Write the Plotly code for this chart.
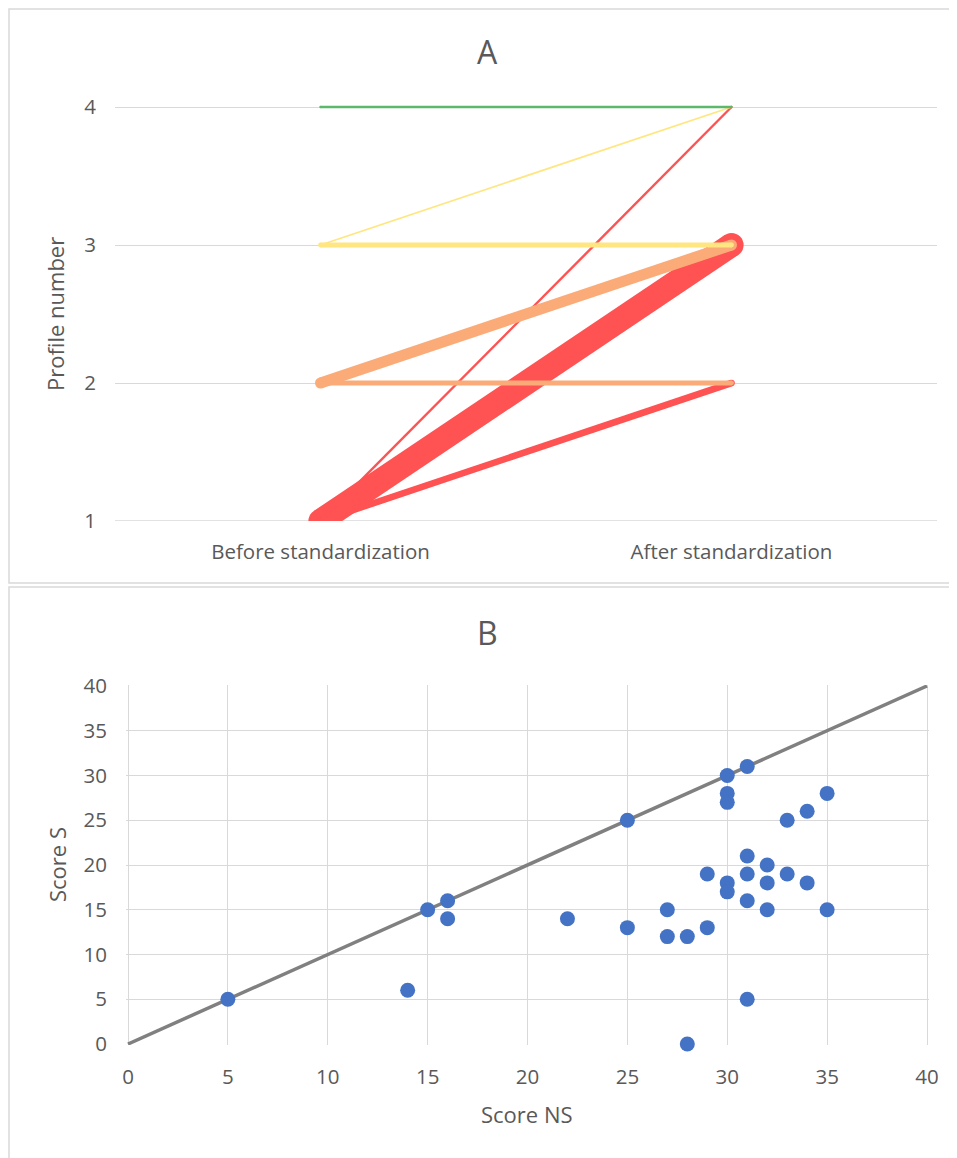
import plotly.graph_objects as go

W, H = 957, 1158
OFF = 8  # page body margin of the html page

# ---------------- Data: chart A (profile transitions) ----------------
stages = ["Before standardization", "After standardization"]
profile_before = [1, 1, 1, 2, 2, 3, 3, 4]
profile_after = [3, 2, 4, 3, 2, 3, 4, 4]
transition_count = [11, 3, 1.1, 5, 2.2, 2.2, 0.8, 1.1]
profile_colors = {1: "#ff5252", 2: "#fbab78", 3: "#ffe680", 4: "#5cb96c"}
profile_ticks = [1, 2, 3, 4]

# ---------------- Data: chart B (scores) ----------------
score_ns = [5, 14, 15, 16, 16, 22, 25, 25, 27, 27, 28, 28, 29, 29, 30, 30, 30, 30, 30,
            31, 31, 31, 31, 31, 32, 32, 32, 33, 33, 34, 34, 35, 35]
score_s = [5, 6, 15, 16, 14, 14, 25, 13, 15, 12, 12, 0, 19, 13, 30, 28, 27, 18, 17,
           31, 21, 19, 16, 5, 20, 18, 15, 25, 19, 26, 18, 28, 15]
identity_line = [0, 40]
score_ticks = [0, 5, 10, 15, 20, 25, 30, 35, 40]

TXT = "#595959"
GRID = "#d9d9d9"
FONT = "Open Sans"
PX_PER_COUNT = 2.2


def px(x):
    return (x - OFF) / W


def py(y):
    return 1 - (y - OFF) / H


def dom_x(p0, p1):
    return [px(p0), px(p1)]


def dom_y(p_top, p_bottom):
    return [py(p_bottom), py(p_top)]


fig = go.Figure()

# Chart A: draw red first, then orange, yellow, green (on top)
order = sorted(range(len(profile_before)), key=lambda i: profile_before[i])
for i in order:
    w = transition_count[i] * PX_PER_COUNT
    col = profile_colors[profile_before[i]]
    fig.add_trace(go.Scatter(
        x=stages, y=[profile_before[i], profile_after[i]],
        mode="lines+markers",
        line=dict(color=col, width=w),
        marker=dict(color=col, size=w, line=dict(width=0)),
        xaxis="x", yaxis="y", showlegend=False, hoverinfo="skip",
    ))

# Chart B
fig.add_trace(go.Scatter(
    x=identity_line, y=identity_line, mode="lines",
    line=dict(color="#808080", width=3.5),
    xaxis="x2", yaxis="y2", showlegend=False, hoverinfo="skip",
))
fig.add_trace(go.Scatter(
    x=score_ns, y=score_s, mode="markers",
    marker=dict(color="#4472c4", size=15, line=dict(width=0)),
    cliponaxis=False,
    xaxis="x2", yaxis="y2", showlegend=False,
))

# pixel geometry (reference image coordinates)
a_top = 107 - 0.05 * 138
bx = (927 - 128) / 40
by = (1044 - 686) / 40
pad = 0.1
b_left, b_right = 128 - pad * bx, 927 + pad * bx
b_bottom, b_top = 1044 + pad * by, 686 - pad * by

tickfont = dict(family=FONT, size=20.5, color=TXT)

fig.update_layout(
    template="none",
    width=W, height=H,
    margin=dict(l=0, r=0, t=0, b=0, pad=0, autoexpand=False),
    paper_bgcolor="white", plot_bgcolor="white",
    font=dict(family=FONT, color=TXT),
    xaxis=dict(
        domain=dom_x(115, 937), anchor="y", automargin=False,
        type="category", categoryorder="array", categoryarray=stages,
        range=[-0.5, 1.5], showgrid=False, showline=False, zeroline=False,
        ticks="", tickfont=tickfont, ticklabelstandoff=16,
    ),
    yaxis=dict(
        domain=dom_y(a_top, 521), anchor="x", automargin=False,
        range=[1, 4.05], tickvals=profile_ticks,
        showgrid=True, gridcolor=GRID, gridwidth=1.3,
        showline=False, zeroline=False, ticks="", tickfont=tickfont,
        ticklabelstandoff=18,
    ),
    xaxis2=dict(
        domain=dom_x(b_left, b_right), anchor="y2", automargin=False,
        range=[-pad, 40 + pad], tickvals=score_ticks,
        showgrid=True, gridcolor=GRID, gridwidth=1.3,
        showline=False, zeroline=False, ticks="", tickfont=tickfont,
        ticklabelstandoff=18,
    ),
    yaxis2=dict(
        domain=dom_y(b_top, b_bottom), anchor="x2", automargin=False,
        range=[-pad, 40 + pad], tickvals=score_ticks,
        showgrid=True, gridcolor=GRID, gridwidth=1.3,
        showline=False, zeroline=False, ticks="", tickfont=tickfont,
        ticklabelstandoff=18,
    ),
)

# baseline gridline at profile 1 (range edge)
fig.add_shape(type="line", xref="x domain", yref="y", x0=0, x1=1, y0=1, y1=1,
              line=dict(color=GRID, width=1.3), layer="below")

# chart frames
fig.add_shape(type="rect", xref="paper", yref="paper",
              x0=px(9), x1=1.02, y0=py(583), y1=py(9),
              line=dict(color=GRID, width=1.5), layer="below")
fig.add_shape(type="rect", xref="paper", yref="paper",
              x0=px(9), x1=1.02, y0=-0.02, y1=py(587),
              line=dict(color=GRID, width=1.5), layer="below")


def ann(text, x, y, size, angle=0):
    fig.add_annotation(text=text, x=px(x), y=py(y), xref="paper", yref="paper",
                       showarrow=False, textangle=angle,
                       font=dict(family=FONT, size=size, color=TXT),
                       xanchor="center", yanchor="middle")


ann("A", 487, 52, 32)
ann("B", 487, 632, 32)
ann("Profile number", 55, 314, 22, -90)
ann("Score S", 57, 865, 22, -90)
ann("Score NS", 527, 1114, 22)

fig.write_html("out.html")
